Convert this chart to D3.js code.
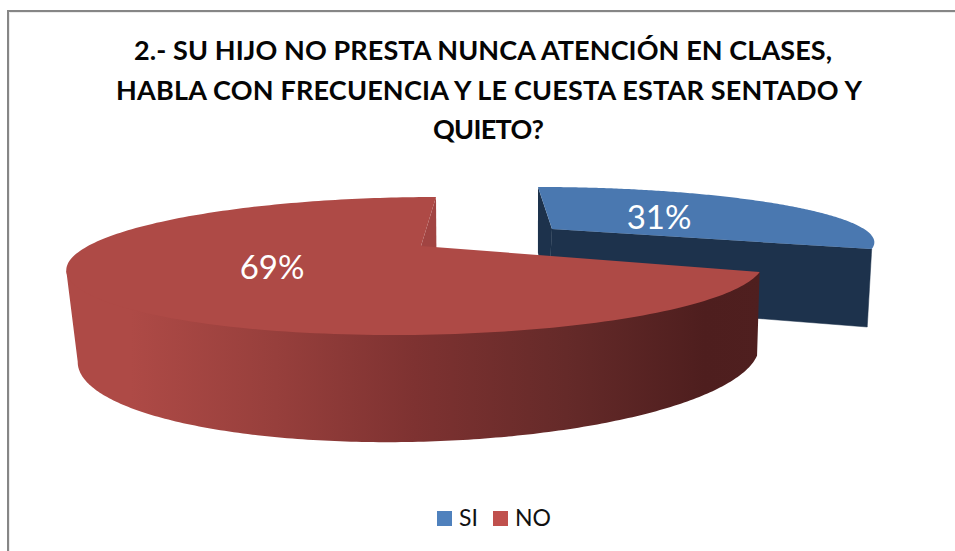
<!DOCTYPE html>
<html><head><meta charset="utf-8">
<script src="https://cdn.jsdelivr.net/npm/d3@7"></script>
<style>html,body{margin:0;padding:0;background:#fff}svg{display:block}text{font-family:Lato,"Open Sans",sans-serif}</style>
</head><body><svg id="c" width="955" height="551"></svg>
<script>
const categories = ["SI","NO"];
const values = [31,69];
const seriesColors = ["#4A78B0","#AE4A46"];
const legendColors = ["#4F81BD","#C0504D"];
const titleLines = ["2.- SU HIJO NO PRESTA NUNCA ATENCIÓN EN CLASES,","HABLA CON FRECUENCIA Y LE CUESTA ESTAR SENTADO Y","QUIETO?"];

const svg = d3.select("#c");
const W=955,H=551;
svg.append("rect").attr("width",W).attr("height",H).attr("fill","#fff");
// frame
svg.append("path").attr("d","M8 551V11H955").attr("fill","none").attr("stroke","#868686").attr("stroke-width",2);
svg.append("path").attr("d","M9.5 551V12.5H955").attr("fill","none").attr("stroke","#ececec").attr("stroke-width",1);

// perspective disc: u to the right, v towards the viewer
const disc = (x0,y0,R,S,B,C,k)=>(a)=>{
  const u=Math.sin(a), v=-Math.cos(a), w=1-k*v;
  return [x0+(R*u+S*v)/w, y0+(B*v+C*u)/w];
};
const red={top:disc(421,246,333,-19.35,63.2,0,.29), bot:disc(421,328.3,326,-8,80.7,-5.7,.29), c:[421,246], cb:[421,328.3]};
const blue={top:disc(552,229,312,16.8,50.4,0,.199), bot:disc(548,302,306,12.6,61.5,0,.256), c:[552,229], cb:[548,302]};

const arcs=d3.pie().sort(null).value(d=>d)(values);
const line=d3.line();
const sample=(f,a0,a1,n=200)=>d3.range(n+1).map(i=>f(a0+(a1-a0)*i/n));
// the angle at which a rim reaches its leftmost point
const leftmost=(f,a0,a1)=>{
  const as=d3.range(201).map(i=>a0+(a1-a0)*i/200);
  return d3.least(as,a=>f(a)[0]);
};
// pull a rim point slightly inside its disc, so the wall tucks under the top face
const tuck=(p,c)=>[c[0]+(p[0]-c[0])*.985,c[1]+(p[1]-c[1])*.985];

const defs=svg.append("defs");
const grad=defs.append("linearGradient").attr("id","wall").attr("gradientUnits","userSpaceOnUse")
  .attr("x1",68).attr("x2",760).attr("y1",0).attr("y2",0);
[[0,"#AE4A46"],[.09,"#AE4A46"],[.3,"#973F3C"],[.5,"#7E3231"],[.72,"#652A29"],[.92,"#4E1E1E"],[1,"#4F1F1F"]]
 .forEach(([o,c])=>grad.append("stop").attr("offset",o).attr("stop-color",c));

const [bs,rs]=arcs;
const darkBlue="#1D324C";
// blue slice: two cut faces then the top
svg.append("path").attr("d",line([blue.top(bs.startAngle),blue.c,blue.cb,blue.bot(bs.startAngle)])+"Z").attr("fill",darkBlue);
svg.append("path").attr("d",line([blue.c,blue.top(bs.endAngle),blue.bot(bs.endAngle),blue.cb])+"Z").attr("fill",darkBlue).attr("stroke",darkBlue).attr("stroke-width",.5);
svg.append("path").attr("d",line([blue.c,...sample(blue.top,bs.startAngle,bs.endAngle)])+"Z").attr("fill",seriesColors[0]);

// red slice: inner cut, outer wall (front part of the rim only), top
const backTop=red.top(rs.endAngle);
svg.append("path").attr("d",line([backTop,[backTop[0]+1,red.cb[1]],red.cb,red.c])+"Z").attr("fill","#A14442");
const aTop=leftmost(red.top,rs.startAngle,rs.endAngle), aBot=leftmost(red.bot,rs.startAngle,rs.endAngle);
svg.append("path").attr("d",line([red.top(rs.startAngle),...sample(red.top,rs.startAngle,aTop).map(p=>tuck(p,red.c)),red.top(aTop),...sample(red.bot,aBot,rs.startAngle)])+"Z")
  .attr("fill","url(#wall)");
svg.append("path").attr("d",line([red.c,...sample(red.top,rs.startAngle,rs.endAngle)])+"Z").attr("fill",seriesColors[1]);

// value labels
const labelPos=[[659,229],[272,279]];
svg.append("g").selectAll("text").data(values).join("text")
  .attr("x",(d,i)=>labelPos[i][0]).attr("y",(d,i)=>labelPos[i][1])
  .attr("text-anchor","middle").attr("font-size",33).attr("fill","#fff").text(d=>d+"%");

// title
const titleX=[134,116,433], titleW=[698,746,111], titleY=[60,99.5,138.5];
svg.append("g").selectAll("text").data(titleLines).join("text")
  .attr("x",(d,i)=>titleX[i]).attr("y",(d,i)=>titleY[i])
  .attr("textLength",(d,i)=>titleW[i]).attr("lengthAdjust","spacing")
  .attr("font-size",27).attr("font-weight",700).attr("fill","#050505").text(d=>d);

// legend
const legX=d3.scaleOrdinal().domain(categories).range([437,493]);
const leg=svg.append("g").selectAll("g").data(categories).join("g").attr("transform",d=>`translate(${legX(d)},511)`);
leg.append("rect").attr("width",15).attr("height",15).attr("fill",(d,i)=>legendColors[i]);
leg.append("text").attr("x",22).attr("y",15).attr("font-size",23).attr("fill","#111").text(d=>d);
</script></body></html>
